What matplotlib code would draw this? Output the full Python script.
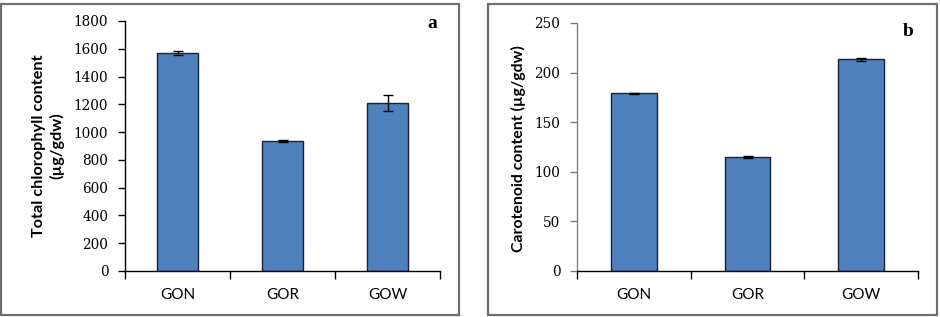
import matplotlib.pyplot as plt
from matplotlib.patches import Rectangle
import numpy as np

# data
samples = ['GON', 'GOR', 'GOW']
chl = [1570, 935, 1210]
chl_err = [15, 5, 55]
car = [179, 115, 213.5]
car_err = [0.8, 0.6, 1.5]

bar_col = '#4F81BD'
edge_col = '#15223a'
tick_font = 'DejaVu Serif'
lab_font = 'Lato'

fig = plt.figure(figsize=(9.4, 3.17), dpi=100)

# panel frames (figure pixels -> fractions)
W, H = 940.0, 317.0
for x0, x1 in [(1, 459), (488, 937)]:
    fig.patches.append(Rectangle((x0 / W, 2 / H), (x1 - x0) / W, 311 / H,
                                 transform=fig.transFigure, fill=False,
                                 edgecolor='#6e6e6e', linewidth=1.6))


def draw(ax, vals, errs, ymax, step, width, spine_col):
    x = np.arange(len(samples))
    ax.bar(x, vals, width=width, color=bar_col, edgecolor=edge_col,
           linewidth=1.0, zorder=2)
    ax.errorbar(x, vals, yerr=errs, fmt='none', ecolor='black',
                elinewidth=1.0, capsize=3.5, capthick=1.0, zorder=3)
    ax.set_xlim(-0.5, len(samples) - 0.5)
    ax.set_ylim(0, ymax)
    ax.set_yticks(np.arange(0, ymax + 1, step))
    ax.set_xticks(x)
    ax.set_xticklabels(samples, fontfamily=lab_font, fontsize=11)
    ax.set_xticks(np.arange(-0.5, len(samples), 1), minor=True)
    ax.tick_params(axis='x', which='major', length=0, pad=12)
    ax.tick_params(axis='x', which='minor', length=6, width=1.0, direction='out')
    ax.tick_params(axis='y', length=5, width=1.0, direction='out', pad=7,
                   color=spine_col)
    for t in ax.get_yticklabels():
        t.set_fontfamily(tick_font)
        t.set_fontsize(9.8)
    for s in ['top', 'right']:
        ax.spines[s].set_visible(False)
    ax.spines['left'].set_color(spine_col)
    ax.spines['bottom'].set_color('black')
    ax.spines['left'].set_linewidth(1.0)
    ax.spines['bottom'].set_linewidth(1.0)


ax1 = fig.add_axes([125 / W, 46 / H, 315 / W, 250 / H])
draw(ax1, chl, chl_err, 1800, 200, 0.39, 'black')

ax2 = fig.add_axes([577 / W, 46 / H, 341 / W, 248 / H])
draw(ax2, car, car_err, 250, 50, 0.40, '#808080')

fig.text(48 / W, 1 - 146 / H, 'Total chlorophyll content\n(µg/gdw)',
         rotation=90, ha='center', va='center', fontfamily=lab_font,
         fontweight='bold', fontsize=11.7, linespacing=1.25)
fig.text(518 / W, 1 - 149 / H, 'Carotenoid content (µg/gdw)',
         rotation=90, ha='center', va='center', fontfamily=lab_font,
         fontweight='bold', fontsize=11.4)

fig.text(432 / W, 1 - 23 / H, 'a', ha='center', va='center',
         fontfamily='Liberation Serif', fontweight='bold', fontsize=14)
fig.text(908 / W, 1 - 32 / H, 'b', ha='center', va='center',
         fontfamily='Liberation Serif', fontweight='bold', fontsize=14)

fig.savefig('out.png', dpi=100)
